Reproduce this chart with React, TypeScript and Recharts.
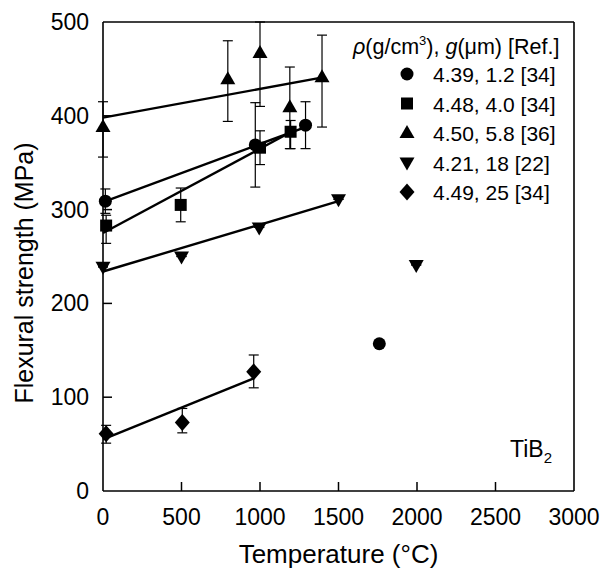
import React from "react"
import { ScatterChart, Scatter, XAxis, YAxis, ErrorBar } from "recharts"

const FONT = "'Liberation Sans', Arial, Helvetica, sans-serif"

const temperatureTicks = [0, 500, 1000, 1500, 2000, 2500, 3000]
const strengthTicks = [0, 100, 200, 300, 400, 500]

// 4.39, 1.2 [34]
const circleTemp = [15, 970, 1290, 1760]
const circleStrength = [309, 369, 390, 157]
const circleErr = [[13, 13], [45, 45], [25, 25], [0, 0]]
const circleFitTemp = [0, 1290]
const circleFitStrength = [308, 388]

// 4.48, 4.0 [34]
const squareTemp = [20, 495, 1000, 1195]
const squareStrength = [283, 305, 366, 383]
const squareErr = [[19, 11], [18, 18], [18, 18], [18, 12]]
const squareFitTemp = [0, 1200]
const squareFitStrength = [275, 383]

// 4.50, 5.8 [36]
const upTemp = [0, 795, 1000, 1190, 1395]
const upStrength = [388, 439, 467, 409, 441]
const upErr = [[32, 27], [45, 41], [57, 33], [44, 43], [53, 45]]
const upFitTemp = [0, 1400]
const upFitStrength = [398, 441]

// 4.21, 18 [22]
const downTemp = [0, 500, 995, 1500, 1995]
const downStrength = [239, 250, 281, 311, 241]
const downFitTemp = [0, 1500]
const downFitStrength = [234, 309]

// 4.49, 25 [34]
const diamondTemp = [20, 505, 960]
const diamondStrength = [61, 73, 127]
const diamondErr = [[10, 9], [11, 15], [17, 18]]
const diamondFitTemp = [0, 960]
const diamondFitStrength = [55, 120]

const legendLabels = ["4.39, 1.2 [34]", "4.48, 4.0 [34]", "4.50, 5.8 [36]", "4.21, 18 [22]", "4.49, 25 [34]"]
const legendKinds = ["circle", "square", "up", "down", "diamond"]

const toPoints = (t: number[], s: number[], e?: number[][]) =>
  t.map((x, i) => ({ t: x, s: s[i], err: e ? e[i] : [0, 0] }))

function Marker({ kind, cx, cy }: { kind: string; cx: number; cy: number }) {
  if (kind === "circle") return <circle cx={cx} cy={cy} r={6.5} fill="#000" />
  if (kind === "square") return <rect x={cx - 6} y={cy - 6} width={12} height={12} fill="#000" />
  if (kind === "up") return <path d={`M${cx},${cy - 8}L${cx + 7.5},${cy + 5}L${cx - 7.5},${cy + 5}Z`} fill="#000" />
  if (kind === "down") return <path d={`M${cx - 7.5},${cy - 5}L${cx + 7.5},${cy - 5}L${cx},${cy + 8}Z`} fill="#000" />
  return <path d={`M${cx},${cy - 8.5}L${cx + 7.5},${cy}L${cx},${cy + 8.5}L${cx - 7.5},${cy}Z`} fill="#000" />
}

const markerShape = (kind: string) => (p: any) => <Marker kind={kind} cx={p.cx} cy={p.cy} />
const noShape = () => <g />

// ticks point into the plot on all four sides
const BottomTick = (p: any) => {
  const v = p.payload.value
  return (
    <g>
      {v !== 0 && v !== 3000 && <line x1={p.x} y1={p.y} x2={p.x} y2={p.y - 9} stroke="#000" strokeWidth={1.5} />}
      <text x={p.x} y={p.y + 34} textAnchor="middle" fontSize={23} fontFamily={FONT} fill="#000">
        {v}
      </text>
    </g>
  )
}

const TopTick = (p: any) => {
  const v = p.payload.value
  if (v === 0 || v === 3000) return <g />
  return <line x1={p.x} y1={p.y} x2={p.x} y2={p.y + 9} stroke="#000" strokeWidth={1.5} />
}

const LeftTick = (p: any) => {
  const v = p.payload.value
  return (
    <g>
      {v !== 0 && v !== 500 && <line x1={p.x} y1={p.y} x2={p.x + 9} y2={p.y} stroke="#000" strokeWidth={1.5} />}
      <text x={p.x - 14} y={p.y + 8} textAnchor="end" fontSize={23} fontFamily={FONT} fill="#000">
        {v}
      </text>
    </g>
  )
}

const RightTick = (p: any) => {
  const v = p.payload.value
  if (v === 0 || v === 500) return <g />
  return <line x1={p.x} y1={p.y} x2={p.x - 9} y2={p.y} stroke="#000" strokeWidth={1.5} />
}

const axisLine = { stroke: "#000", strokeWidth: 1.6 }
const fitLine = { stroke: "#000", strokeWidth: 2.4 }

export default function App() {
  const series = [
    { kind: "circle", pts: toPoints(circleTemp, circleStrength, circleErr), fit: toPoints(circleFitTemp, circleFitStrength) },
    { kind: "square", pts: toPoints(squareTemp, squareStrength, squareErr), fit: toPoints(squareFitTemp, squareFitStrength) },
    { kind: "up", pts: toPoints(upTemp, upStrength, upErr), fit: toPoints(upFitTemp, upFitStrength) },
    { kind: "down", pts: toPoints(downTemp, downStrength), fit: toPoints(downFitTemp, downFitStrength) },
    { kind: "diamond", pts: toPoints(diamondTemp, diamondStrength, diamondErr), fit: toPoints(diamondFitTemp, diamondFitStrength) },
  ]

  return (
    <div style={{ position: "absolute", left: 0, top: 0, width: 603, height: 571, background: "#fff" }}>
      <ScatterChart width={603} height={571} margin={{ top: 21, right: 28, bottom: 0, left: 43 }}>
        <XAxis
          xAxisId="b"
          dataKey="t"
          type="number"
          domain={[0, 3000]}
          ticks={temperatureTicks}
          height={80}
          tickSize={0}
          tickMargin={0}
          tickLine={false}
          axisLine={axisLine}
          tick={BottomTick}
          label={(props: any) => {
            const vb = props.viewBox
            return (
              <text x={vb.x + vb.width / 2} y={563} textAnchor="middle" fontSize={26} fontFamily={FONT} fill="#000">
                Temperature (°C)
              </text>
            )
          }}
        />
        <XAxis
          xAxisId="t"
          orientation="top"
          dataKey="t"
          type="number"
          domain={[0, 3000]}
          ticks={temperatureTicks}
          height={1}
          tickSize={0}
          tickMargin={0}
          tickLine={false}
          axisLine={axisLine}
          tick={TopTick}
        />
        <YAxis
          yAxisId="l"
          dataKey="s"
          type="number"
          domain={[0, 500]}
          ticks={strengthTicks}
          width={60}
          tickSize={0}
          tickMargin={0}
          tickLine={false}
          axisLine={axisLine}
          tick={LeftTick}
          label={() => (
            <text x={33} y={273} transform="rotate(-90, 33, 273)" textAnchor="middle" fontSize={25} fontFamily={FONT} fill="#000">
              Flexural strength (MPa)
            </text>
          )}
        />
        <YAxis
          yAxisId="r"
          orientation="right"
          dataKey="s"
          type="number"
          domain={[0, 500]}
          ticks={strengthTicks}
          width={1}
          tickSize={0}
          tickMargin={0}
          tickLine={false}
          axisLine={axisLine}
          tick={RightTick}
        />
        {series.map((s) => (
          <Scatter
            key={s.kind + "-fit"}
            xAxisId="b"
            yAxisId="l"
            data={s.fit}
            dataKey="s"
            line={fitLine}
            shape={noShape}
            isAnimationActive={false}
          />
        ))}
        {series.map((s) => (
          <Scatter
            key={s.kind}
            xAxisId="b"
            yAxisId="l"
            data={s.pts}
            dataKey="s"
            shape={markerShape(s.kind)}
            isAnimationActive={false}
          >
            <ErrorBar dataKey="err" direction="y" width={5} stroke="#000" strokeWidth={1.2} />
          </Scatter>
        ))}
      </ScatterChart>
      <svg width={603} height={571} style={{ position: "absolute", left: 0, top: 0, pointerEvents: "none" }}>
        <text x={353} y={54} fontSize={21.5} fontFamily={FONT} fill="#000">
          <tspan fontStyle="italic">ρ</tspan>
          <tspan>(g/cm</tspan>
          <tspan fontSize={13} dy={-9}>3</tspan>
          <tspan dy={9}>), </tspan>
          <tspan fontStyle="italic">g</tspan>
          <tspan>(μm) [Ref.]</tspan>
        </text>
        {legendLabels.map((label, i) => (
          <g key={label}>
            <Marker kind={legendKinds[i]} cx={407} cy={74 + i * 29.5} />
            <text x={433} y={82 + i * 29.5} fontSize={21} fontFamily={FONT} fill="#000">
              {label}
            </text>
          </g>
        ))}
        <text x={510} y={457} fontSize={23} fontFamily={FONT} fill="#000">
          TiB<tspan fontSize={15} dy={6}>2</tspan>
        </text>
      </svg>
    </div>
  )
}
